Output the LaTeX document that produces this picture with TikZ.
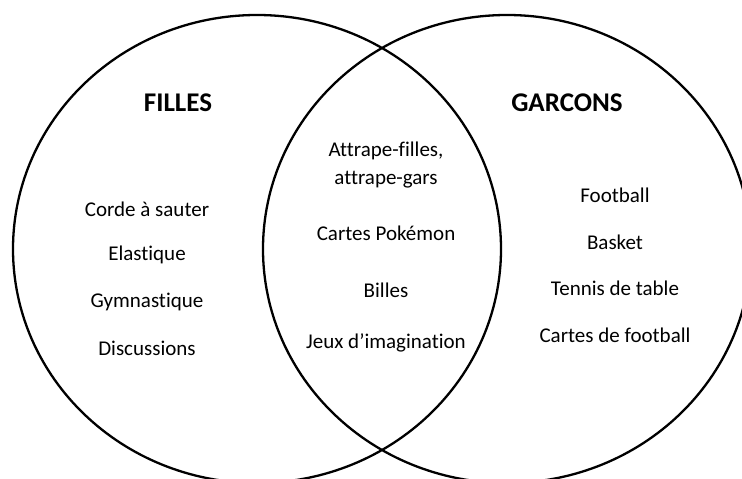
\documentclass[tikz,border=0pt]{standalone}
\usepackage{fontspec}
\setmainfont{Carlito}[Ligatures={NoCommon}]
\usetikzlibrary{positioning}

\tikzset{
  venn/.style={line width=2.3pt, black},
  titre/.style={font=\fontsize{27}{32}\selectfont\bfseries},
  jeu/.style={font=\fontsize{21}{28}\selectfont, align=center, inner sep=0pt}
}

\begin{document}
\begin{tikzpicture}[x=1pt, y=-1pt]
    \useasboundingbox (0,0) rectangle (742,479);
    \clip (0,0) rectangle (742,479);

    % les deux ensembles
    \draw[venn] (257,249) ellipse [x radius=244pt, y radius=234pt];
    \draw[venn] (507,249) ellipse [x radius=244pt, y radius=234pt];

    % titres
    \node[titre] (filles) at (178,103) {FILLES};
    \node[titre] (garcons) at (567,103) {GARCONS};

    % filles seulement
    \node[jeu] (corde) at (147,209) {Corde à sauter};
    \node[jeu] (elastique) at (147,255) {Elastique};
    \node[jeu] (gym) at (147,302) {Gymnastique};
    \node[jeu] (discussions) at (147,348) {Discussions};

    % les deux
    \node[jeu] (attrape) at (386,165) {Attrape-filles,\\attrape-gars};
    \node[jeu] (pokemon) at (386,233) {Cartes Pokémon};
    \node[jeu] (billes) at (386,290) {Billes};
    \node[jeu] (jeux) at (386,343) {Jeux d’imagination};

    % garcons seulement
    \node[jeu] (football) at (615,195) {Football};
    \node[jeu] (basket) at (615,242) {Basket};
    \node[jeu] (tennis) at (615,288) {Tennis de table};
    \node[jeu] (cartesfoot) at (615,335) {Cartes de football};
\end{tikzpicture}
\end{document}
